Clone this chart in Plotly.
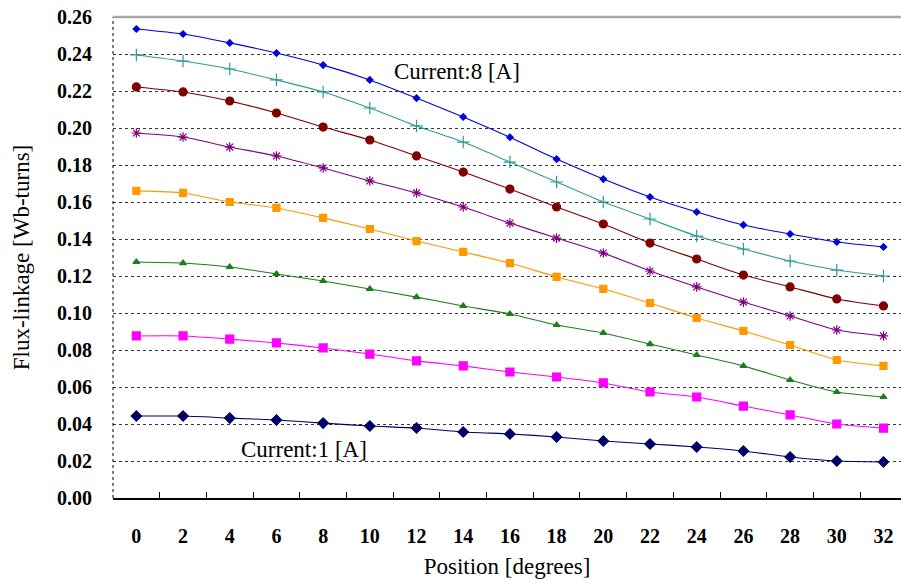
import plotly.graph_objects as go

positions = [0, 2, 4, 6, 8, 10, 12, 14, 16, 18, 20, 22, 24, 26, 28, 30, 32]

flux_1A = [0.0443, 0.0443, 0.0432, 0.0422, 0.0405, 0.0389, 0.0378, 0.0357, 0.0346, 0.0330,
           0.0308, 0.0292, 0.0276, 0.0254, 0.0222, 0.0200, 0.0195]
flux_2A = [0.0876, 0.0876, 0.0859, 0.0838, 0.0811, 0.0778, 0.0741, 0.0714, 0.0681, 0.0654,
           0.0622, 0.0573, 0.0546, 0.0497, 0.0449, 0.0400, 0.0378]
flux_3A = [0.1276, 0.1270, 0.1249, 0.1211, 0.1173, 0.1130, 0.1086, 0.1038, 0.0995, 0.0935,
           0.0892, 0.0832, 0.0773, 0.0714, 0.0638, 0.0573, 0.0546]
flux_4A = [0.1660, 0.1649, 0.1600, 0.1568, 0.1514, 0.1454, 0.1389, 0.1330, 0.1270, 0.1195,
           0.1130, 0.1054, 0.0973, 0.0903, 0.0827, 0.0746, 0.0714]
flux_5A = [0.1973, 0.1951, 0.1897, 0.1849, 0.1784, 0.1714, 0.1649, 0.1573, 0.1486, 0.1405,
           0.1324, 0.1227, 0.1141, 0.1059, 0.0984, 0.0908, 0.0876]
flux_6A = [0.2222, 0.2195, 0.2146, 0.2081, 0.2005, 0.1935, 0.1849, 0.1762, 0.1670, 0.1573,
           0.1481, 0.1378, 0.1292, 0.1205, 0.1141, 0.1076, 0.1038]
flux_7A = [0.2395, 0.2362, 0.2319, 0.2260, 0.2195, 0.2108, 0.2011, 0.1924, 0.1816, 0.1708,
           0.1600, 0.1508, 0.1416, 0.1346, 0.1281, 0.1232, 0.1200]
flux_8A = [0.2535, 0.2508, 0.2460, 0.2405, 0.2340, 0.2260, 0.2162, 0.2060, 0.1950, 0.1832,
           0.1724, 0.1627, 0.1546, 0.1476, 0.1427, 0.1384, 0.1357]

y_ticks = [0.00, 0.02, 0.04, 0.06, 0.08, 0.10, 0.12, 0.14, 0.16, 0.18, 0.20, 0.22, 0.24, 0.26]
y_ticktext = ["%.2f" % v for v in y_ticks]
x_minor_ticks = [1, 3, 5, 7, 9, 11, 13, 15, 17, 19, 21, 23, 25, 27, 29, 31]

series = [
    ("1 A", flux_1A, "#000066", "diamond", 8),
    ("2 A", flux_2A, "#FF00FF", "square", 8),
    ("3 A", flux_3A, "#1E7D1E", "triangle-up", 6),
    ("4 A", flux_4A, "#FF9900", "square", 7),
    ("5 A", flux_5A, "#800080", "asterisk-open", 8),
    ("6 A", flux_6A, "#800000", "circle", 8),
    ("7 A", flux_7A, "#2E9B96", "cross-thin-open", 9),
    ("8 A", flux_8A, "#0000DD", "diamond", 5),
]

font_family = "Liberation Serif, Times New Roman, serif"

fig = go.Figure()
for name, vals, color, symbol, size in series:
    fig.add_trace(go.Scatter(
        x=positions, y=vals, name=name, mode="lines+markers",
        line=dict(color=color, width=1.1, shape="spline", smoothing=0.6),
        marker=dict(color=color, symbol=symbol, size=size,
                    line=dict(color=color, width=1.2)),
    ))

fig.update_layout(
    width=901, height=583,
    margin=dict(l=113, r=0, t=17, b=85),
    paper_bgcolor="white", plot_bgcolor="white",
    showlegend=False,
    font=dict(family=font_family, color="black"),
    xaxis=dict(
        range=[-1, 32.75],
        tickvals=positions, ticktext=[str(p) for p in positions],
        ticks="", showgrid=False, zeroline=False,
        showline=True, linecolor="black", linewidth=1.5,
        tickfont=dict(family=font_family, size=20, color="black", weight="bold"),
        ticklabelstandoff=19,
        minor=dict(tickvals=x_minor_ticks, ticks="inside", ticklen=6,
                   tickcolor="black", tickwidth=1, showgrid=False),
        title=dict(text="Position [degrees]", font=dict(size=23, family=font_family),
                   standoff=12),
    ),
    yaxis=dict(
        range=[0, 0.26],
        tickvals=y_ticks, ticktext=y_ticktext,
        ticks="", zeroline=False, showline=False,
        showgrid=True, gridcolor="#333333", gridwidth=1, griddash="3px,3px",
        tickfont=dict(family=font_family, size=20, color="black", weight="bold"),
        ticklabelstandoff=20,
        title=dict(text="Flux-linkage [Wb-turns]", font=dict(size=23, family=font_family),
                   standoff=20),
    ),
    shapes=[
        dict(type="line", xref="paper", yref="paper", x0=0, x1=0, y0=0, y1=1,
             line=dict(color="black", width=1, dash="3px,3px")),
        dict(type="line", xref="paper", yref="paper", x0=0, x1=1, y0=1, y1=1,
             line=dict(color="#A8A8A8", width=2.5)),
    ],
    annotations=[
        dict(text="Current:8 [A]", x=13.75, y=0.2305, xref="x", yref="y",
             showarrow=False, font=dict(size=23, family=font_family, color="black")),
        dict(text="Current:1 [A]", x=7.2, y=0.0262, xref="x", yref="y",
             showarrow=False, font=dict(size=23, family=font_family, color="black")),
    ],
)

fig.write_html("out.html")
